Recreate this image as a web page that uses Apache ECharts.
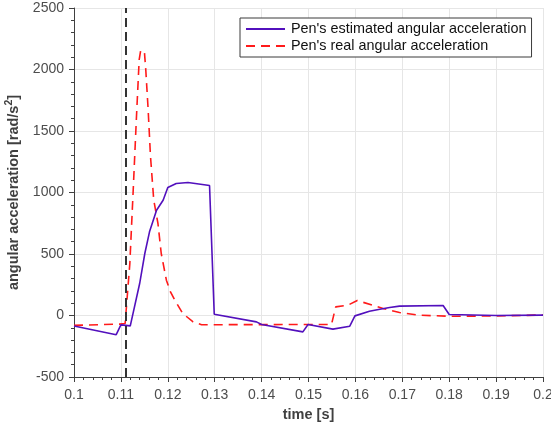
<!DOCTYPE html>
<html>
<head>
<meta charset="utf-8">
<script src="https://cdn.jsdelivr.net/npm/echarts@6/dist/echarts.min.js"></script>
<style>
  html, body { margin: 0; padding: 0; background: #fff; }
  #chart { width: 551px; height: 430px; }
</style>
</head>
<body>
<div id="chart"></div>
<script>
// Pendulum angular acceleration: estimate vs. measured
const estTime = [0.1, 0.1090, 0.1100, 0.1120, 0.1140, 0.1151, 0.1161, 0.1176, 0.1190, 0.1200,
  0.1218, 0.1243, 0.1289, 0.1299, 0.1389, 0.1400, 0.1488, 0.1499, 0.1552, 0.1588, 0.1599,
  0.1630, 0.1652, 0.1673, 0.1694, 0.1787, 0.1800, 0.1900, 0.2];
const estAccel = [-85, -156, -76, -84, 260, 504, 680, 856, 937, 1040,
  1073, 1081, 1057, 10, -52, -73, -133, -73, -111, -87, -3,
  35, 51, 65, 76, 81, 8, 0, 3];

const realTime = [0.1, 0.1097, 0.1109, 0.1119, 0.1126, 0.1133, 0.1139, 0.1142, 0.1150, 0.1153,
  0.1158, 0.1163, 0.1170, 0.1179, 0.1186, 0.1197, 0.1206, 0.1215, 0.1232, 0.1254, 0.1272,
  0.1549, 0.1558, 0.1584, 0.1604, 0.1659, 0.1694, 0.1737, 0.1801, 0.1900, 0.2];
const realAccel = [-80, -70, -65, 420, 1000, 1600, 2080, 2150, 2150, 2000,
  1680, 1300, 940, 748, 504, 287, 190, 124, 16, -52, -75,
  -73, 70, 84, 122, 57, 24, 2, -6, -4, 4];

// Time of the event marked by the vertical dashed line
const eventTime = 0.1111;

const xTicks = { min: 0.1, max: 0.2, step: 0.01 };
const yTicks = { min: -500, max: 2500, step: 500 };

const seriesNames = ["Pen's estimated angular acceleration", "Pen's real angular acceleration"];

const zip = (xs, ys) => xs.map((x, i) => [x, ys[i]]);

const font = 'Liberation Sans, Arial, sans-serif';
const axisColor = '#404040';
const labelColor = '#4d4d4d';
const gridColor = '#e6e6e6';

const chart = echarts.init(document.getElementById('chart'), null, { renderer: 'canvas' });

chart.setOption({
  animation: false,
  backgroundColor: '#fff',
  textStyle: { fontFamily: font },
  grid: { left: 74, right: 8, top: 8, bottom: 53, containLabel: false, outerBoundsMode: 'none' },
  legend: {
    orient: 'vertical',
    left: 240,
    top: 18,
    padding: [4, 5, 4, 5],
    itemGap: 3,
    itemWidth: 39,
    itemHeight: 12,
    backgroundColor: '#fff',
    borderColor: '#3a3a3a',
    borderWidth: 1,
    borderRadius: 0,
    itemStyle: { opacity: 0 },
    textStyle: { fontFamily: font, fontSize: 14.4, color: '#111', padding: [0, 0, 0, 1] },
    data: seriesNames
  },
  xAxis: {
    type: 'value',
    min: xTicks.min,
    max: xTicks.max,
    interval: xTicks.step,
    name: 'time [s]',
    nameLocation: 'middle',
    nameGap: 30,
    nameTextStyle: { fontFamily: font, fontSize: 14.5, fontWeight: 'bold', color: axisColor },
    axisLine: { show: true, onZero: false, lineStyle: { color: axisColor, width: 1 } },
    axisTick: { show: true, length: 5, lineStyle: { color: axisColor } },
    minorTick: { show: true, splitNumber: 5, length: 3, lineStyle: { color: axisColor } },
    axisLabel: {
      margin: 11, fontSize: 14, color: labelColor, fontFamily: font,
      formatter: v => String(parseFloat(v.toFixed(2)))
    },
    splitLine: { show: true, lineStyle: { color: gridColor, width: 1 } }
  },
  yAxis: {
    type: 'value',
    min: yTicks.min,
    max: yTicks.max,
    interval: yTicks.step,
    name: '{a|angular acceleration [rad/s}{s|2}{a|]}',
    nameLocation: 'middle',
    nameGap: 42,
    nameTextStyle: {
      rich: {
        a: { fontFamily: font, fontSize: 14.5, fontWeight: 'bold', color: axisColor, verticalAlign: 'bottom', lineHeight: 18 },
        s: { fontFamily: font, fontSize: 10.5, fontWeight: 'bold', color: axisColor, verticalAlign: 'top', lineHeight: 18, padding: [0, 0, 7, 0] }
      }
    },
    axisLine: { show: true, lineStyle: { color: axisColor, width: 1 } },
    axisTick: { show: true, length: 5, lineStyle: { color: axisColor } },
    minorTick: { show: true, splitNumber: 5, length: 3, lineStyle: { color: axisColor } },
    axisLabel: { margin: 10, fontSize: 14, color: labelColor, fontFamily: font, formatter: v => String(v) },
    splitLine: { show: true, lineStyle: { color: gridColor, width: 1 } }
  },
  series: [
    {
      name: seriesNames[0],
      type: 'line',
      data: zip(estTime, estAccel),
      symbol: 'none',
      z: 3,
      lineStyle: { color: '#5210bd', width: 1.6 },
      itemStyle: { color: '#5210bd' },
      markLine: {
        silent: true,
        symbol: 'none',
        precision: 5,
        label: { show: false },
        lineStyle: { color: '#333', width: 2, type: [9, 5] },
        data: [{ xAxis: eventTime }]
      }
    },
    {
      name: seriesNames[1],
      type: 'line',
      data: zip(realTime, realAccel),
      symbol: 'none',
      z: 2,
      lineStyle: { color: '#ff1a1a', width: 1.6, type: [9, 6] },
      itemStyle: { color: '#ff1a1a' }
    }
  ]
});
</script>
</body>
</html>
